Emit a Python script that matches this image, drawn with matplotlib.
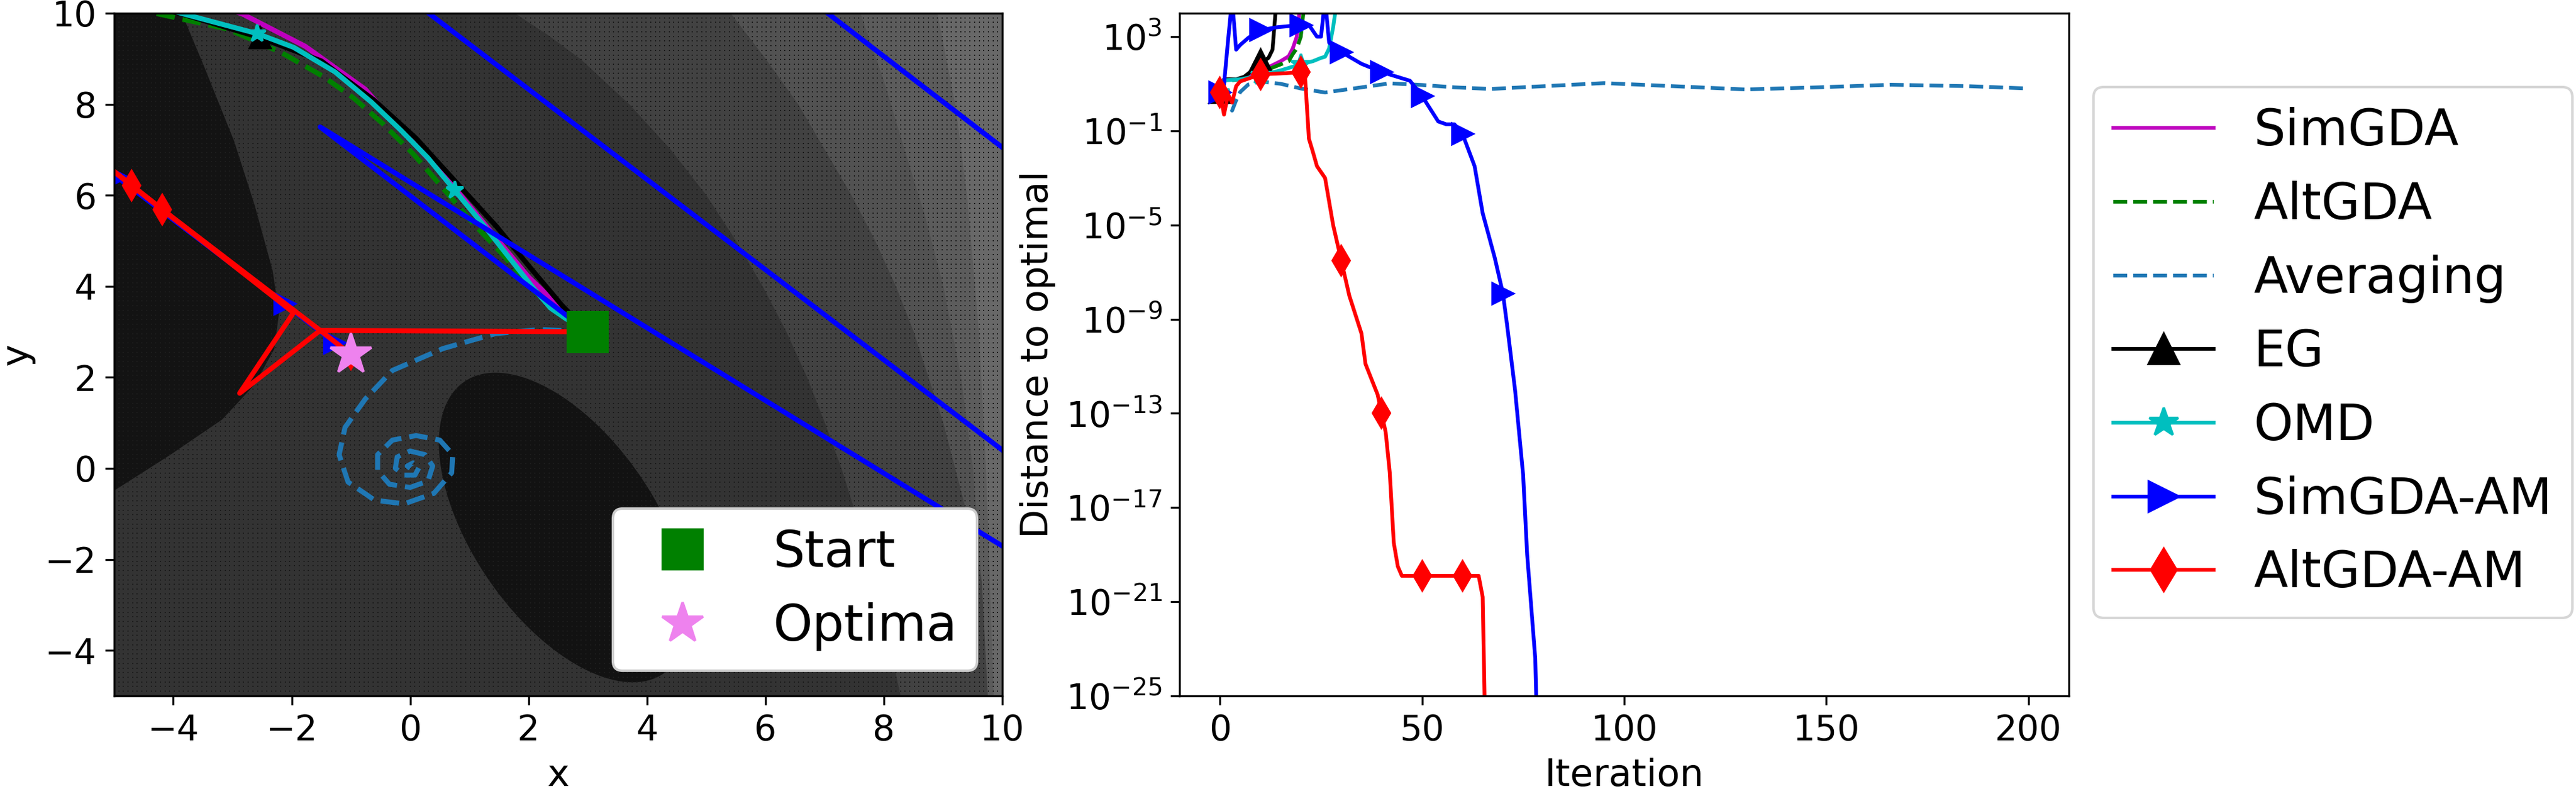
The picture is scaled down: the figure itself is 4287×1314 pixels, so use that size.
import numpy as np
import matplotlib.pyplot as plt
from matplotlib.patches import Ellipse
from matplotlib.ticker import NullLocator

# ---------------- right panel: log10(distance to optimal) vs iteration
simgda_it = [0, 1, 5, 10, 15, 17, 18, 19, 20]
simgda_lg = [0.63, 1.15, 1.2, 1.53, 1.96, 2.17, 2.5, 3.0, 4.6]

altgda_it = [0, 1, 5, 10, 12, 17, 18, 19, 20, 21]
altgda_lg = [0.63, 1.1, 1.2, 1.45, 1.62, 1.96, 2.26, 2.5, 3.0, 4.6]

avg_it = [0, 1, 2, 3, 4, 5, 7, 10, 15, 20, 26, 33, 42, 50, 58, 67, 78, 95,
          112, 130, 148, 166, 185, 200]
avg_lg = [0.6, 0.4, 0.1, -0.14, 0.3, 0.65, 0.97, 1.1, 1.0, 0.8, 0.63, 0.8,
          1.02, 0.95, 0.85, 0.78, 0.88, 1.03, 0.9, 0.76, 0.85, 0.96, 0.9, 0.8]

eg_it = [0, 1, 4, 6, 8, 10, 11, 12, 13, 14]
eg_lg = [0.63, 1.19, 1.19, 1.3, 1.57, 2.0, 1.98, 2.1, 2.45, 4.6]

omd_it = [0, 1, 5, 10, 15, 20, 23, 25, 26, 27, 28, 29]
omd_lg = [0.63, 1.15, 1.19, 1.36, 1.57, 1.83, 1.96, 2.1, 2.15, 2.5, 3.4, 4.6]

simam_it = [0, 1, 2, 3, 4, 5, 7, 10, 14, 20, 22, 24, 25, 26, 27, 30, 35, 40,
            47, 49, 50, 54, 56, 58, 60, 63, 65, 68, 70, 71, 73, 75, 76, 78, 79]
simam_lg = [0.63, 0.97, 2.85, 4.6, 2.45, 2.65, 2.95, 3.28, 3.4, 3.5, 3.5, 3.0,
            3.0, 4.6, 2.75, 2.35, 1.85, 1.5, 1.13, 0.7, 0.48, -0.6, -0.72,
            -0.72, -1.13, -2.5, -4.5, -6.4, -7.9, -9.2, -12.0, -15.6, -19.0,
            -23.4, -30.0]

altam_it = [0, 1, 2, 3, 4, 5, 10, 15, 20, 21, 22, 23, 24, 26, 28, 30, 32, 35,
            36, 39, 40, 41, 42, 43, 44, 45, 50, 60, 64, 65, 66]
altam_lg = [0.63, -0.31, 0.55, 0.2, 0.9, 1.1, 1.4, 1.44, 1.49, 1.45, -1.33,
            -1.9, -2.5, -3.0, -5.0, -6.5, -8.0, -9.6, -10.9, -12.2, -13.0,
            -13.8, -15.5, -18.5, -19.5, -19.9, -19.9, -19.9, -19.9, -20.8,
            -30.0]

# ---------------- left panel: trajectories in the (x, y) plane
simgda_x = [3, 2.6, 2.0, 1.3, 0.6, -0.2, -0.76, -1.77, -2.83, -3.1]
simgda_y = [3, 3.45, 4.2, 5.3, 6.4, 7.5, 8.33, 9.27, 9.98, 10.1]

altgda_x = [3, 2.57, 2.06, 1.56, 1.05, 0.55, 0.05, -0.46, -0.96, -1.47,
            -2.17, -3.08, -4.24, -4.6]
altgda_y = [3, 3.33, 3.94, 4.7, 5.4, 6.16, 6.91, 7.57, 8.14, 8.61, 9.13,
            9.65, 9.98, 10.08]

avg_x = [3, 2.2, 1.44, 0.55, -0.3, -0.76, -1.1, -1.2, -1.05, -0.6, -0.1, 0.4,
         0.7, 0.72, 0.5, 0.1, -0.3, -0.55, -0.55, -0.35, 0.0, 0.3, 0.38, 0.25,
         0.0, -0.22, -0.25, -0.1, 0.08, 0.15, 0.05, -0.05, 0.0]
avg_y = [3, 3.05, 2.96, 2.63, 2.15, 1.52, 0.9, 0.3, -0.3, -0.7, -0.78, -0.55,
         -0.1, 0.3, 0.62, 0.72, 0.62, 0.3, -0.05, -0.35, -0.42, -0.28, 0.05,
         0.3, 0.38, 0.25, 0.0, -0.15, -0.15, 0.02, 0.12, 0.05, 0.0]

eg_x = [3, 2.57, 2.0, 1.46, 0.8, 0.1, -0.61, -1.5, -2.53, -3.9, -4.2]
eg_y = [3, 3.57, 4.45, 5.31, 6.25, 7.25, 8.09, 8.95, 9.46, 10.0, 10.1]

omd_x = [3, 2.64, 2.37, 2.06, 1.66, 1.26, 0.75, 0.3, -0.16, -0.66, -1.27,
         -1.97, -2.58, -3.79, -4.3]
omd_y = [3, 3.28, 3.52, 3.99, 4.65, 5.31, 6.11, 6.82, 7.43, 8.05, 8.71,
         9.25, 9.55, 9.97, 10.15]

simam_x = [3, -1.52, 21, -1, 5, 14, 14, -8, -4.95, -2.12, -1.27, -1.0]
simam_y = [3, 7.5, -10.5, 11.3, 12.05, 3.05, 14, 9.5, 6.4, 3.61, 2.76, 2.5]

altam_x = [3, -1.52, -2.88, -1.97, -4.7, -6.0, -4.19, -1.52, -1.0]
altam_y = [3, 3.03, 1.65, 3.42, 6.21, 7.55, 5.69, 3.03, 2.5]

start_xy = (3, 3)
optima_xy = (-1.0, 2.5)

# ---------------- left panel: shaded level regions
lobe_y = [-0.48, 0.3, 1.08, 1.85, 2.63, 3.42, 4.36, 5.78, 7.2, 8.85, 10]
lobe_x = [-5, -4.06, -3.18, -2.63, -2.3, -2.22, -2.33, -2.63, -2.98, -3.49, -3.86]

band1_y = [-5, -4, -3, -2, -1, 0, 1, 2, 3, 4, 5, 6, 7, 8, 9, 9.5, 10]
band1_x = [8.28, 8.11, 7.93, 7.74, 7.52, 7.28, 7.0, 6.7, 6.35, 5.95, 5.5,
           5.0, 4.4, 3.7, 2.87, 2.35, 1.77]
band2_y = [-5, -4, -3, -2, -1, 0, 1, 2, 3, 4, 5, 6, 7, 8, 9, 10]
band2_x = [9.92, 9.83, 9.72, 9.58, 9.4, 9.2, 9.0, 8.75, 8.5, 8.2, 7.85, 7.45,
           7.0, 6.55, 6.0, 5.41]
band3_y = [-5, -2.5, 0, 2, 4, 5.5, 7.2, 8.5, 10]
band3_x = [9.75, 9.65, 9.5, 9.3, 9.0, 8.7, 8.3, 8.0, 7.6]
band4_y = [-5, 0, 3, 6, 8, 10]
band4_x = [9.85, 9.72, 9.6, 9.4, 9.2, 8.9]

ellipse_center = (2.6, -1.3)
ellipse_axes = (7.3, 3.3)
ellipse_angle = -66


def marks_every10(its):
    return [i for i, it in enumerate(its) if it % 10 == 0]


fig = plt.figure(figsize=(14.29, 4.38), dpi=300)
ax1 = fig.add_axes([0.0443, 0.118, 0.3448, 0.8653])
ax2 = fig.add_axes([0.4579, 0.118, 0.3452, 0.8653])

# ---- left: background
ax1.set_facecolor('#333333')
for by, bx, col in [(band1_y, band1_x, '#424242'), (band2_y, band2_x, '#525252'),
                    (band3_y, band3_x, '#5c5c5c'), (band4_y, band4_x, '#686868')]:
    ax1.fill_betweenx(by, bx, 10, color=col, lw=0, zorder=0)
ax1.fill_betweenx(lobe_y, -5, lobe_x, color='#131313', lw=0, zorder=0.5)
ax1.add_patch(Ellipse(ellipse_center, ellipse_axes[0], ellipse_axes[1],
                      angle=ellipse_angle, color='#121212', lw=0, zorder=0.5))
# fine dotted texture of the vector-field glyphs
gx, gy = np.meshgrid(np.linspace(-5, 10, 193), np.linspace(-5, 10, 148))
ax1.scatter(gx.ravel(), gy.ravel(), s=0.3, marker='s', c='#1c1c1c', lw=0,
            zorder=0.8)

lw1 = 2
ax1.plot(simgda_x, simgda_y, color='m', lw=lw1)
ax1.plot(altgda_x, altgda_y, 'g--', lw=lw1)
ax1.plot(avg_x, avg_y, '--', color='#1f77b4', lw=lw1)
ax1.plot(eg_x, eg_y, 'k-', marker='^', ms=8, lw=lw1, markevery=[0, 8])
ax1.plot(omd_x, omd_y, 'c-', marker='*', ms=7, lw=lw1, markevery=[0, 6, 12])
ax1.plot(simam_x, simam_y, color='#0000ff', marker='>', ms=8, lw=lw1,
         markevery=[0, 8, 9, 10])
ax1.plot(altam_x, altam_y, color='#ff0000', marker='d', ms=8, lw=lw1,
         markevery=[0, 4, 6, 8])
ax1.plot(*start_xy, 'gs', ms=16, ls='', label='Start')
ax1.plot(*optima_xy, '*', color='violet', ms=17, ls='', label='Optima')
ax1.set_xlim(-5, 10)
ax1.set_ylim(-5, 10)
ax1.set_xlabel('x', fontsize=15)
ax1.set_ylabel('y', fontsize=15)
ax1.tick_params(labelsize=14)
ax1.legend(loc='lower right', fontsize=20, framealpha=1)

# ---- right: convergence
lw2 = 1.5
ax2.plot(simgda_it, 10.0 ** np.array(simgda_lg), color='m', lw=lw2, label='SimGDA')
ax2.plot(altgda_it, 10.0 ** np.array(altgda_lg), 'g--', lw=lw2, label='AltGDA')
ax2.plot(avg_it, 10.0 ** np.array(avg_lg), '--', color='#1f77b4', lw=lw2,
         label='Averaging')
ax2.plot(eg_it, 10.0 ** np.array(eg_lg), 'k-', marker='^', ms=8, lw=lw2,
         markevery=marks_every10(eg_it), label='EG')
ax2.plot(omd_it, 10.0 ** np.array(omd_lg), 'c-', marker='*', ms=8, lw=lw2,
         markevery=marks_every10(omd_it), label='OMD')
ax2.plot(simam_it, 10.0 ** np.array(simam_lg), color='#0000ff', marker='>', ms=8,
         lw=lw2, markevery=marks_every10(simam_it), label='SimGDA-AM')
ax2.plot(altam_it, 10.0 ** np.array(altam_lg), color='#ff0000', marker='d', ms=8,
         lw=lw2, markevery=marks_every10(altam_it), label='AltGDA-AM')
ax2.set_yscale('log')
ax2.set_ylim(1e-25, 1e4)
ax2.set_xlim(-10, 210)
ax2.set_yticks([10.0 ** k for k in range(3, -26, -4)])
ax2.yaxis.set_minor_locator(NullLocator())
ax2.set_xlabel('Iteration', fontsize=15)
ax2.set_ylabel('Distance to optimal', fontsize=15)
ax2.tick_params(labelsize=14)

h, l = ax2.get_legend_handles_labels()
fig.legend(h, l, loc='upper left', bbox_to_anchor=(0.8127, 0.8896),
           borderaxespad=0, fontsize=20, markerscale=1.5)

fig.savefig('out.png', dpi=300)
